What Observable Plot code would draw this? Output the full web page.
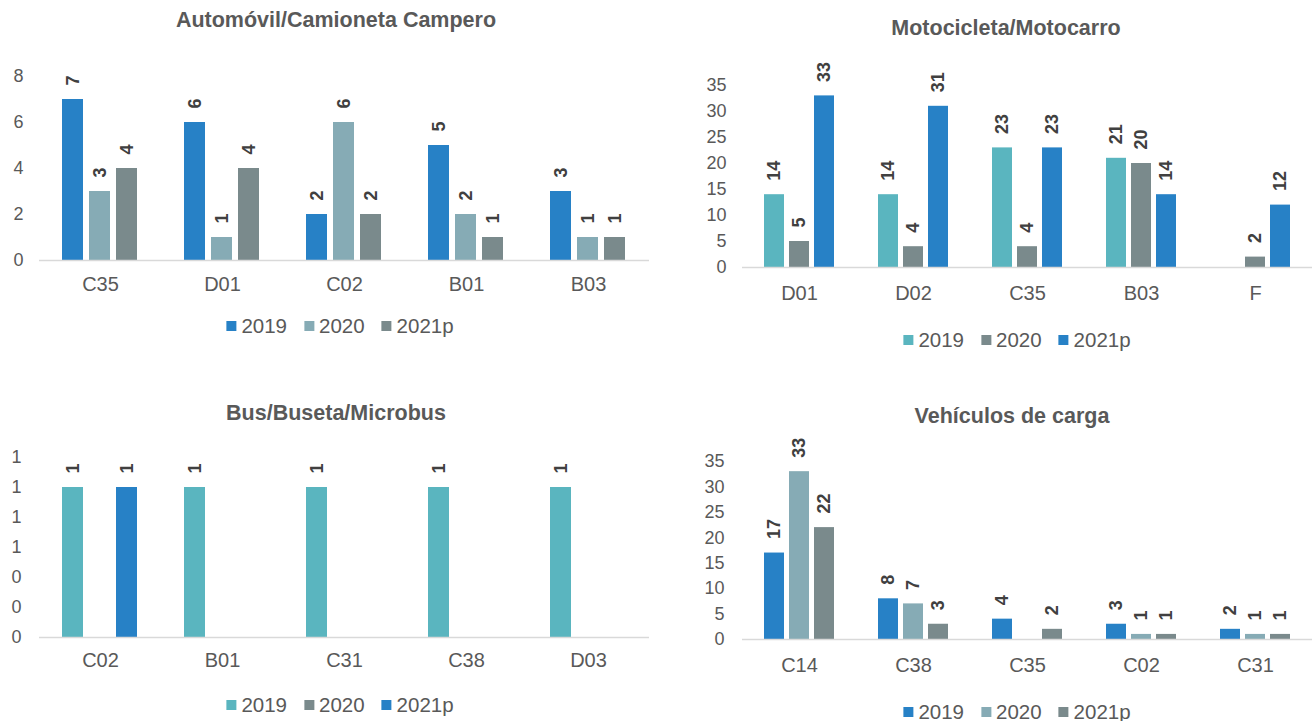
<!DOCTYPE html>
<html><head><meta charset="utf-8">
<script src="https://cdn.jsdelivr.net/npm/d3@7"></script>
<script src="https://cdn.jsdelivr.net/npm/@observablehq/plot@0.6"></script>
<style>
body{margin:0;background:#fff;width:1312px;height:721px;position:relative;overflow:hidden;font-family:"Liberation Sans",Arial,sans-serif;}
.title{position:absolute;font-weight:bold;font-size:21.5px;color:#595959;transform:translate(-50%,-50%);white-space:nowrap;}
.legend{position:absolute;display:flex;gap:17px;transform:translate(-50%,-50%);font-size:20.5px;color:#595959;white-space:nowrap;align-items:center;}
.legend .item{display:flex;align-items:center;}
.legend .sw{display:inline-block;width:10px;height:10px;margin-right:5px;}
.panel{position:absolute;}
</style></head><body>
<script>
const years = ["2019", "2020", "2021p"];

// Automóvil/Camioneta Campero
const autoCats = ["C35", "D01", "C02", "B01", "B03"];
const auto2019 = [7, 6, 2, 5, 3];
const auto2020 = [3, 1, 6, 2, 1];
const auto2021 = [4, 4, 2, 1, 1];
const autoTicks = [0, 2, 4, 6, 8];
const autoColors = ["#2781C6", "#86ABB5", "#7A8A8C"];

// Motocicleta/Motocarro
const motoCats = ["D01", "D02", "C35", "B03", "F"];
const moto2019 = [14, 14, 23, 21, null];
const moto2020 = [5, 4, 4, 20, 2];
const moto2021 = [33, 31, 23, 14, 12];
const motoTicks = [0, 5, 10, 15, 20, 25, 30, 35];
const motoColors = ["#5AB5BF", "#7A8A8C", "#2781C6"];

// Bus/Buseta/Microbus
const busCats = ["C02", "B01", "C31", "C38", "D03"];
const bus2019 = [1, 1, 1, 1, 1];
const bus2020 = [null, null, null, null, null];
const bus2021 = [1, null, null, null, null];
const busTicks = [0, 0.2, 0.4, 0.6, 0.8, 1, 1.2];
const busColors = ["#5AB5BF", "#7A8A8C", "#2781C6"];

// Vehículos de carga
const cargaCats = ["C14", "C38", "C35", "C02", "C31"];
const carga2019 = [17, 8, 4, 3, 2];
const carga2020 = [33, 7, null, 1, 1];
const carga2021 = [22, 3, 2, 1, 1];
const cargaTicks = [0, 5, 10, 15, 20, 25, 30, 35];
const cargaColors = ["#2781C6", "#86ABB5", "#7A8A8C"];

function addDiv(cls, x, y, html) {
  const d = document.createElement("div");
  d.className = cls;
  d.style.left = x + "px";
  d.style.top = y + "px";
  d.innerHTML = html;
  document.body.appendChild(d);
  return d;
}

function panel(o) {
  const rows = [];
  o.cats.forEach((c, i) => years.forEach((yr, j) => {
    const v = o.series[j][i];
    if (v != null) rows.push({cat: c, year: yr, value: v});
  }));
  const chart = Plot.plot({
    width: o.width, height: o.height,
    marginLeft: o.marginLeft, marginRight: o.marginRight,
    marginTop: o.marginTop, marginBottom: o.marginBottom,
    style: {fontFamily: '"Liberation Sans", Arial, sans-serif', fontSize: "18px", color: "#595959", background: "transparent", overflow: "visible"},
    facet: {data: rows, x: "cat", marginLeft: 0, marginRight: 0, marginTop: 0, marginBottom: 0},
    fx: {domain: o.cats, paddingInner: 0, paddingOuter: 0, axis: "bottom", tickSize: 0, tickPadding: o.tpx, label: null},
    x: {domain: years, paddingInner: 0.22, paddingOuter: 0.86, axis: null},
    y: {domain: [o.ticks[0], o.ticks[o.ticks.length - 1]], ticks: o.ticks, tickFormat: o.format || (d => String(d)), tickSize: 0, tickPadding: o.tpy, label: null},
    color: {domain: years, range: o.colors},
    marks: [
      Plot.barY(rows, {x: "year", y: "value", fill: "year"}),
      Plot.ruleY([0], {stroke: "#D9D9D9", strokeWidth: 1.5}),
      Plot.text(rows, {x: "year", y: "value", text: d => String(d.value), rotate: -90, textAnchor: "start", dy: -14, fontWeight: "bold", fontSize: 18, fill: "#404040"})
    ]
  });
  d3.select(chart).selectAll('g[aria-label*="fx-axis"] text').style("font-size", "20px");
  chart.classList.add("panel");
  chart.style.left = o.left + "px";
  chart.style.top = o.top + "px";
  document.body.appendChild(chart);
  addDiv("title", o.titleX, o.titleY, o.title);
  const leg = years.map((yr, j) => `<span class="item"><span class="sw" style="background:${o.colors[j]}"></span>${yr}</span>`).join("");
  addDiv("legend", o.legX, o.legY, leg);
}

panel({title: "Automóvil/Camioneta Campero", titleX: 336, titleY: 20, legX: 340, legY: 326,
  cats: autoCats, series: [auto2019, auto2020, auto2021], ticks: autoTicks, colors: autoColors,
  left: 0, top: 0, width: 656, height: 300, marginLeft: 38, marginRight: 6, marginTop: 76, marginBottom: 40, tpx: 16, tpy: 16});

panel({title: "Motocicleta/Motocarro", titleX: 1006, titleY: 28, legX: 1017, legY: 340,
  cats: motoCats, series: [moto2019, moto2020, moto2021], ticks: motoTicks, colors: motoColors,
  left: 656, top: 0, width: 656, height: 310, marginLeft: 86, marginRight: 0, marginTop: 85, marginBottom: 43, tpx: 18, tpy: 16});

panel({title: "Bus/Buseta/Microbus", titleX: 336, titleY: 413, legX: 340, legY: 705,
  cats: busCats, series: [bus2019, bus2020, bus2021], ticks: busTicks, colors: busColors, format: d3.format(".0f"),
  left: 0, top: 380, width: 656, height: 300, marginLeft: 38, marginRight: 6, marginTop: 77, marginBottom: 43, tpx: 15, tpy: 18});

panel({title: "Vehículos de carga", titleX: 1012, titleY: 416, legX: 1017, legY: 712,
  cats: cargaCats, series: [carga2019, carga2020, carga2021], ticks: cargaTicks, colors: cargaColors,
  left: 656, top: 380, width: 656, height: 300, marginLeft: 86, marginRight: 0, marginTop: 81, marginBottom: 41, tpx: 18, tpy: 18});
</script>
</body></html>
